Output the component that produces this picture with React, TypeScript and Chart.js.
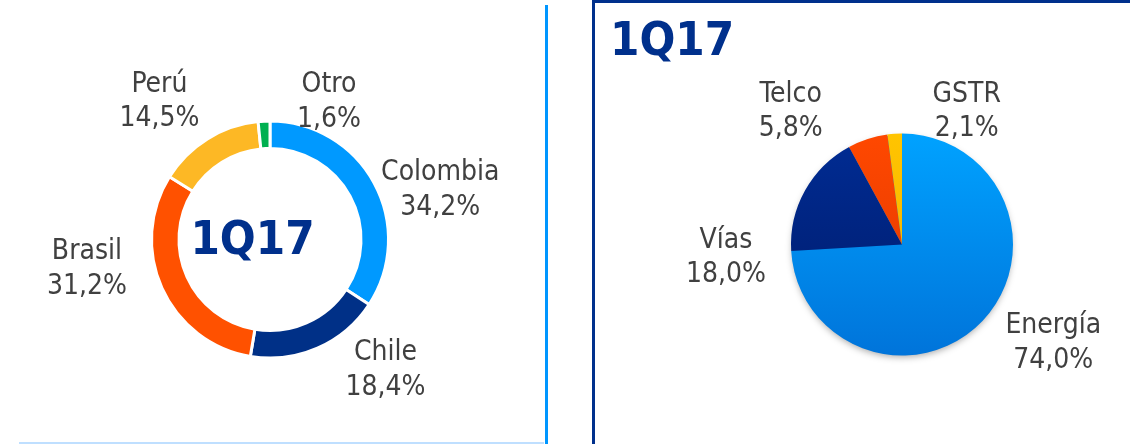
import React, { useEffect, useRef } from "react";
import { Chart, registerables } from "chart.js";

Chart.register(...registerables);

// ---- data ----
const periodLabel = "1Q17";

const regionLabels = ["Colombia", "Chile", "Brasil", "Perú", "Otro"];
const regionValues = [34.2, 18.4, 31.2, 14.5, 1.6];
const regionColors = ["#0099FF", "#003087", "#FF5100", "#FDB825", "#00B050"];

const sectorLabels = ["Energía", "Vías", "Telco", "GSTR"];
const sectorValues = [74.0, 18.0, 5.8, 2.1];
const sectorColorsTop = ["#00A2FF", "#002C94", "#FF4800", "#FFC400"];
const sectorColorsBottom = ["#0074DA", "#001A68", "#DD3600", "#F2AE00"];

// ---- layout (label nudges from each slice's outer mid point, px) ----
const regionLabelNudge = [
  [66, 4],
  [68, 19],
  [-75, -22],
  [-48, -40],
  [65, -22],
];
const sectorLabelNudge = [
  [70.5, 19.5],
  [-79, 64],
  [-77, -30],
  [72, -25],
];

const FONT = "'DejaVu Sans Condensed', 'DejaVu Sans', sans-serif";
const LABEL_COLOR = "#404040";
const TITLE_COLOR = "#00308C";

const fmt = (v: number) => v.toFixed(1).replace(".", ",") + "%";

function makeLabelPlugin(id: string, nudges: number[][]) {
  return {
    id,
    afterDatasetsDraw(chart: any) {
      const ctx = chart.ctx as CanvasRenderingContext2D;
      const meta = chart.getDatasetMeta(0);
      const labels = chart.data.labels as string[];
      const values = chart.data.datasets[0].data as number[];
      ctx.save();
      ctx.font = `28px ${FONT}`;
      ctx.fillStyle = LABEL_COLOR;
      ctx.textAlign = "center";
      ctx.textBaseline = "alphabetic";
      meta.data.forEach((arc: any, i: number) => {
        const p = arc.getProps(["x", "y", "startAngle", "endAngle", "outerRadius"], true);
        const mid = (p.startAngle + p.endAngle) / 2;
        const ax = p.x + Math.cos(mid) * p.outerRadius + nudges[i][0];
        const ay = p.y + Math.sin(mid) * p.outerRadius + nudges[i][1];
        ctx.fillText(labels[i], ax, ay - 7);
        ctx.fillText(fmt(values[i]), ax, ay + 27.5);
      });
      ctx.restore();
    },
  };
}

const centerTitlePlugin = {
  id: "centerTitle",
  afterDatasetsDraw(chart: any) {
    const ctx = chart.ctx as CanvasRenderingContext2D;
    const arc = chart.getDatasetMeta(0).data[0] as any;
    if (!arc) return;
    const { x, y } = arc.getProps(["x", "y"], true);
    ctx.save();
    ctx.font = `bold 47px ${FONT}`;
    ctx.fillStyle = TITLE_COLOR;
    ctx.textAlign = "center";
    ctx.textBaseline = "alphabetic";
    ctx.fillText(periodLabel, x - 17.5, y + 14);
    ctx.restore();
  },
};

const cornerTitlePlugin = {
  id: "cornerTitle",
  afterDraw(chart: any) {
    const ctx = chart.ctx as CanvasRenderingContext2D;
    ctx.save();
    ctx.font = `bold 47px ${FONT}`;
    ctx.fillStyle = TITLE_COLOR;
    ctx.textAlign = "left";
    ctx.textBaseline = "alphabetic";
    ctx.fillText(periodLabel, 14, 55);
    ctx.restore();
  },
};

const pieShadowPlugin = {
  id: "pieShadow",
  beforeDatasetsDraw(chart: any) {
    const arc = chart.getDatasetMeta(0).data[0] as any;
    if (!arc) return;
    const { x, y, outerRadius } = arc.getProps(["x", "y", "outerRadius"], true);
    const ctx = chart.ctx as CanvasRenderingContext2D;
    ctx.save();
    ctx.shadowColor = "rgba(0,0,0,0.35)";
    ctx.shadowBlur = 7;
    ctx.shadowOffsetX = 0;
    ctx.shadowOffsetY = 3;
    ctx.beginPath();
    ctx.arc(x, y, outerRadius - 1.5, 0, Math.PI * 2);
    ctx.fillStyle = "#0080E0";
    ctx.fill();
    ctx.restore();
  },
};

export default function App() {
  const donutRef = useRef<HTMLCanvasElement | null>(null);
  const pieRef = useRef<HTMLCanvasElement | null>(null);

  useEffect(() => {
    const donut = new Chart(donutRef.current as HTMLCanvasElement, {
      type: "doughnut",
      data: {
        labels: regionLabels,
        datasets: [
          {
            data: regionValues,
            backgroundColor: regionColors,
            borderColor: "#FFFFFF",
            borderWidth: 3,
            radius: 118.5,
            cutout: "76.8%",
          } as any,
        ],
      },
      options: {
        responsive: false,
        animation: false,
        layout: { padding: { top: 35, left: 0, right: 0, bottom: 0 } },
        plugins: { legend: { display: false }, tooltip: { enabled: false } },
        events: [],
      },
      plugins: [makeLabelPlugin("regionLabels", regionLabelNudge), centerTitlePlugin],
    });

    const sectorFill = (c: any) => {
      const i = c.dataIndex ?? 0;
      const chart = c.chart;
      const area = chart.chartArea;
      if (!area) return sectorColorsTop[i];
      const cy = (area.top + area.bottom) / 2;
      const g = chart.ctx.createLinearGradient(0, cy - 111, 0, cy + 111);
      g.addColorStop(0, sectorColorsTop[i]);
      g.addColorStop(1, sectorColorsBottom[i]);
      return g;
    };

    const pie = new Chart(pieRef.current as HTMLCanvasElement, {
      type: "pie",
      data: {
        labels: sectorLabels,
        datasets: [
          {
            data: sectorValues,
            backgroundColor: sectorFill,
            borderWidth: 0,
            radius: 111,
          } as any,
        ],
      },
      options: {
        responsive: false,
        animation: false,
        layout: { padding: { top: 45, left: 78, right: 0, bottom: 0 } },
        plugins: { legend: { display: false }, tooltip: { enabled: false } },
        events: [],
      },
      plugins: [pieShadowPlugin, makeLabelPlugin("sectorLabels", sectorLabelNudge), cornerTitlePlugin],
    });

    return () => {
      donut.destroy();
      pie.destroy();
    };
  }, []);

  return (
    <div
      style={{
        position: "fixed",
        left: 0,
        top: 0,
        width: 1130,
        height: 444,
        background: "#FFFFFF",
        overflow: "hidden",
      }}
    >
      <div style={{ position: "absolute", left: 19, top: 442, width: 525, height: 2, background: "#BFDFFF" }} />
      <div style={{ position: "absolute", left: 545, top: 5, width: 3, height: 439, background: "#0096FF" }} />
      <div style={{ position: "absolute", left: 592, top: 0, width: 3, height: 444, background: "#00308C" }} />
      <div style={{ position: "absolute", left: 592, top: 0, width: 538, height: 3, background: "#00308C" }} />
      <canvas
        ref={donutRef}
        width={540}
        height={444}
        style={{ position: "absolute", left: 0, top: 0, width: 540, height: 444 }}
      />
      <canvas
        ref={pieRef}
        width={534}
        height={444}
        style={{ position: "absolute", left: 596, top: 0, width: 534, height: 444 }}
      />
    </div>
  );
}
